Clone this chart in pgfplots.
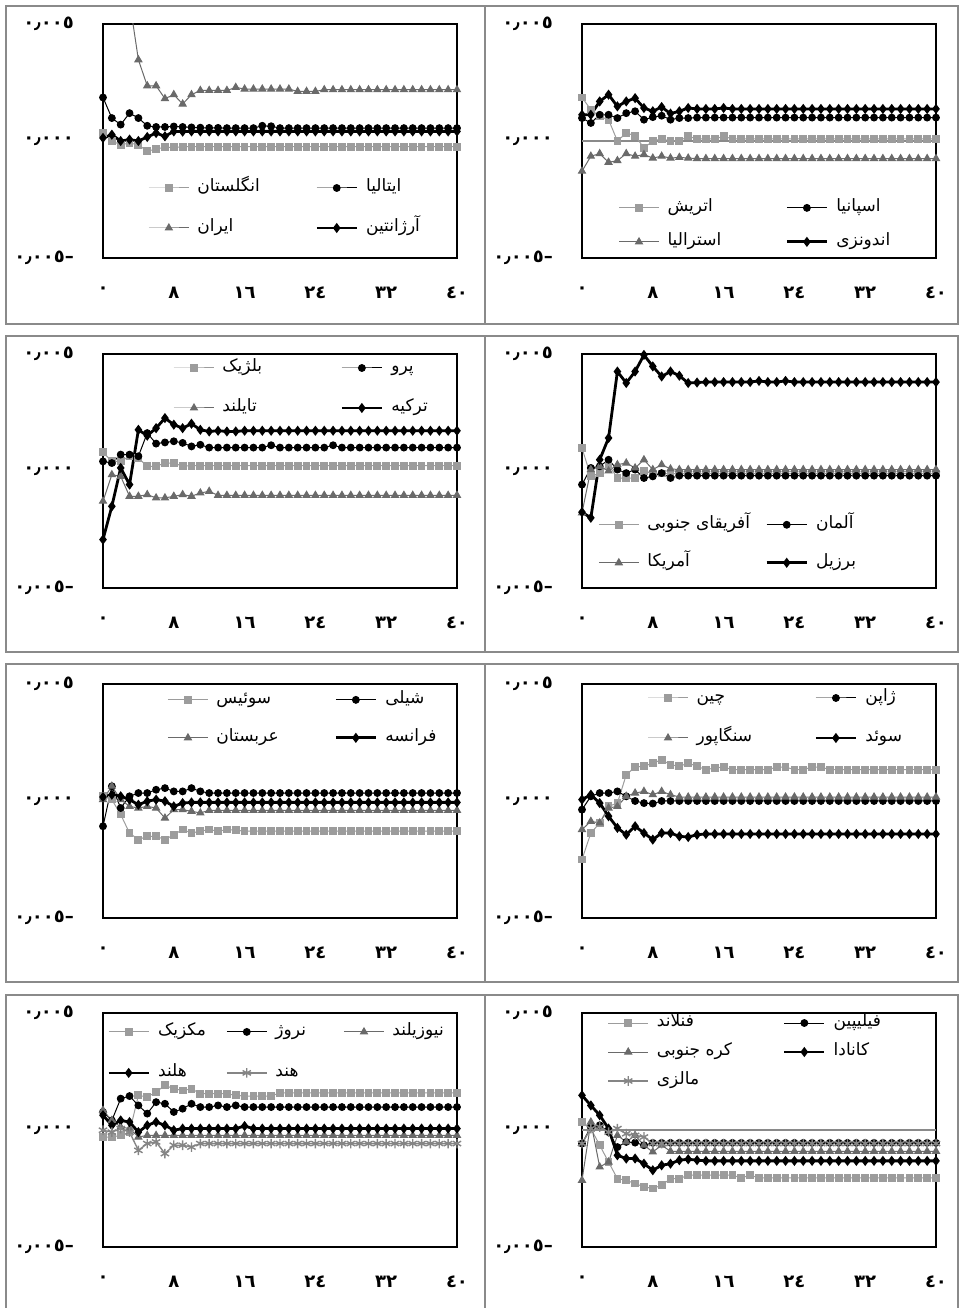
\documentclass[border=0pt]{standalone}
\usepackage{pgfplots}
\pgfplotsset{compat=1.18}
\usepackage{pgfplotstable}
\usepackage{fontspec}
\setmainfont{DejaVu Sans}
\newfontfamily\arfont[Script=Arabic]{DejaVu Sans}
\TeXXeTstate=1
\newcommand{\fa}[1]{{\arfont\beginR #1\endR}}
\newcommand{\lt}[2]{\makebox[#1][l]{\fa{#2}}}
\newcommand{\nm}[1]{{\arfont\bfseries #1}}
\definecolor{cA}{HTML}{9C9C9C}
\definecolor{cC}{HTML}{6A6A6A}
\definecolor{cE}{HTML}{858585}
\definecolor{fr}{HTML}{8A8A8A}

\pgfplotstableread{
x a b c d
0 0.00034 0.00186 0.011 0.00013
1 0.0 0.00098 0.009 0.00027
2 -0.00016 0.00070 0.0075 0.0
3 -0.00009 0.00119 0.006 0.00006
4 -0.00016 0.00098 0.00347 0.0
5 -0.00044 0.00065 0.00236 0.00017
6 -0.00034 0.00060 0.00236 0.00034
7 -0.00027 0.00060 0.00181 0.00020
8 -0.00027 0.00062 0.00198 0.00041
9 -0.00025 0.00060 0.00158 0.00040
10 -0.00024 0.00058 0.00198 0.00041
11 -0.00024 0.00057 0.00216 0.00041
12 -0.00024 0.00056 0.00216 0.00041
13 -0.00024 0.00056 0.00216 0.00041
14 -0.00024 0.00055 0.00216 0.00041
15 -0.00024 0.00055 0.00229 0.00041
16 -0.00024 0.00055 0.00222 0.00041
17 -0.00024 0.00055 0.00222 0.00041
18 -0.00024 0.00065 0.00222 0.00041
19 -0.00024 0.00063 0.00222 0.00041
20 -0.00024 0.00055 0.00222 0.00041
21 -0.00024 0.00055 0.00222 0.00041
22 -0.00024 0.00055 0.00212 0.00041
23 -0.00024 0.00055 0.00212 0.00041
24 -0.00024 0.00055 0.00212 0.00041
25 -0.00024 0.00055 0.00219 0.00041
26 -0.00024 0.00055 0.00219 0.00041
27 -0.00024 0.00055 0.00219 0.00041
28 -0.00024 0.00055 0.00219 0.00041
29 -0.00024 0.00055 0.00219 0.00041
30 -0.00024 0.00055 0.00219 0.00041
31 -0.00024 0.00055 0.00219 0.00041
32 -0.00024 0.00055 0.00219 0.00041
33 -0.00024 0.00055 0.00219 0.00041
34 -0.00024 0.00055 0.00219 0.00041
35 -0.00024 0.00055 0.00219 0.00041
36 -0.00024 0.00055 0.00219 0.00041
37 -0.00024 0.00055 0.00219 0.00041
38 -0.00024 0.00055 0.00219 0.00041
39 -0.00024 0.00055 0.00219 0.00041
40 -0.00024 0.00055 0.00219 0.00041
}\tOne

\pgfplotstableread{
x a b c d
0 0.00186 0.00098 -0.00129 0.00112
1 0.00134 0.00077 -0.00065 0.00112
2 0.00105 0.00112 -0.00054 0.00169
3 0.00091 0.00112 -0.00091 0.00198
4 0.0 0.00098 -0.00084 0.00148
5 0.00034 0.00119 -0.00054 0.00169
6 0.00023 0.00127 -0.00065 0.00183
7 -0.00030 0.00091 -0.00058 0.00141
8 0.0 0.00102 -0.00073 0.00127
9 0.00009 0.00108 -0.00065 0.00145
10 0.0 0.00091 -0.00073 0.00117
11 0.0 0.00098 -0.00070 0.00127
12 0.00020 0.00098 -0.00073 0.00141
13 0.00009 0.00100 -0.00075 0.00137
14 0.00009 0.00100 -0.00075 0.00137
15 0.00009 0.00100 -0.00075 0.00137
16 0.00020 0.00100 -0.00075 0.00141
17 0.00009 0.00100 -0.00075 0.00137
18 0.00009 0.00100 -0.00075 0.00137
19 0.00009 0.00100 -0.00075 0.00137
20 0.00009 0.00100 -0.00075 0.00137
21 0.00009 0.00100 -0.00075 0.00137
22 0.00009 0.00100 -0.00075 0.00137
23 0.00009 0.00100 -0.00075 0.00137
24 0.00009 0.00100 -0.00075 0.00137
25 0.00009 0.00100 -0.00075 0.00137
26 0.00009 0.00100 -0.00075 0.00137
27 0.00009 0.00100 -0.00075 0.00137
28 0.00009 0.00100 -0.00075 0.00137
29 0.00009 0.00100 -0.00075 0.00137
30 0.00009 0.00100 -0.00075 0.00137
31 0.00009 0.00100 -0.00075 0.00137
32 0.00009 0.00100 -0.00075 0.00137
33 0.00009 0.00100 -0.00075 0.00137
34 0.00009 0.00100 -0.00075 0.00137
35 0.00009 0.00100 -0.00075 0.00137
36 0.00009 0.00100 -0.00075 0.00137
37 0.00009 0.00100 -0.00075 0.00137
38 0.00009 0.00100 -0.00075 0.00137
39 0.00009 0.00100 -0.00075 0.00137
40 0.00009 0.00100 -0.00075 0.00137
}\tTwo

\pgfplotstableread{
x a b c d
0 0.00080 0.00041 -0.00129 -0.00293
1 0.00041 0.00034 -0.00016 -0.00151
2 0.00041 0.00070 -0.00023 0.00013
3 0.00063 0.00070 -0.00108 -0.00058
4 0.00055 0.00063 -0.00108 0.00176
5 0.00020 0.00162 -0.00101 0.00151
6 0.00020 0.00117 -0.00115 0.00183
7 0.00034 0.00122 -0.00115 0.00226
8 0.00034 0.00127 -0.00108 0.00198
9 0.00020 0.00120 -0.00101 0.00183
10 0.00023 0.00105 -0.00108 0.00202
11 0.00023 0.00112 -0.00094 0.00176
12 0.00023 0.00100 -0.00087 0.00169
13 0.00023 0.00100 -0.00104 0.00172
14 0.00023 0.00100 -0.00104 0.00169
15 0.00023 0.00100 -0.00104 0.00169
16 0.00023 0.00100 -0.00104 0.00172
17 0.00023 0.00100 -0.00104 0.00172
18 0.00023 0.00100 -0.00104 0.00172
19 0.00023 0.00110 -0.00104 0.00172
20 0.00023 0.00100 -0.00104 0.00172
21 0.00023 0.00100 -0.00104 0.00172
22 0.00023 0.00100 -0.00104 0.00172
23 0.00023 0.00100 -0.00104 0.00172
24 0.00023 0.00100 -0.00104 0.00172
25 0.00023 0.00100 -0.00104 0.00172
26 0.00023 0.00110 -0.00104 0.00172
27 0.00023 0.00100 -0.00104 0.00172
28 0.00023 0.00100 -0.00104 0.00172
29 0.00023 0.00100 -0.00104 0.00172
30 0.00023 0.00100 -0.00104 0.00172
31 0.00023 0.00100 -0.00104 0.00172
32 0.00023 0.00100 -0.00104 0.00172
33 0.00023 0.00100 -0.00104 0.00172
34 0.00023 0.00100 -0.00104 0.00172
35 0.00023 0.00100 -0.00104 0.00172
36 0.00023 0.00100 -0.00104 0.00172
37 0.00023 0.00100 -0.00104 0.00172
38 0.00023 0.00100 -0.00104 0.00172
39 0.00023 0.00100 -0.00104 0.00172
40 0.00023 0.00100 -0.00104 0.00172
}\tThree

\pgfplotstableread{
x a b c d
0 0.00098 -0.00058 -0.00179 -0.00176
1 -0.00023 0.00013 0.00006 -0.00200
2 -0.00009 0.00020 0.00020 0.00048
3 0.00027 0.00048 0.0 0.00141
4 -0.00030 0.00006 0.00027 0.00425
5 -0.00030 -0.00009 0.00034 0.00376
6 -0.00030 0.00006 0.00013 0.00425
7 0.0 -0.00030 0.00048 0.00496
8 -0.00011 -0.00023 0.00006 0.00447
9 -0.00011 -0.00009 0.00027 0.00404
10 -0.00011 -0.00030 0.00009 0.00425
11 -0.00011 -0.00020 0.00006 0.00407
12 -0.00011 -0.00020 0.00006 0.00376
13 -0.00011 -0.00020 0.00006 0.00378
14 -0.00011 -0.00020 0.00006 0.00380
15 -0.00011 -0.00020 0.00006 0.00380
16 -0.00011 -0.00020 0.00006 0.00380
17 -0.00011 -0.00020 0.00006 0.00380
18 -0.00011 -0.00020 0.00006 0.00380
19 -0.00011 -0.00020 0.00006 0.00380
20 -0.00011 -0.00020 0.00006 0.00385
21 -0.00011 -0.00020 0.00006 0.00380
22 -0.00011 -0.00020 0.00006 0.00380
23 -0.00011 -0.00020 0.00006 0.00385
24 -0.00011 -0.00020 0.00006 0.00380
25 -0.00011 -0.00020 0.00006 0.00380
26 -0.00011 -0.00020 0.00006 0.00380
27 -0.00011 -0.00020 0.00006 0.00380
28 -0.00011 -0.00020 0.00006 0.00380
29 -0.00011 -0.00020 0.00006 0.00380
30 -0.00011 -0.00020 0.00006 0.00380
31 -0.00011 -0.00020 0.00006 0.00380
32 -0.00011 -0.00020 0.00006 0.00380
33 -0.00011 -0.00020 0.00006 0.00380
34 -0.00011 -0.00020 0.00006 0.00380
35 -0.00011 -0.00020 0.00006 0.00380
36 -0.00011 -0.00020 0.00006 0.00380
37 -0.00011 -0.00020 0.00006 0.00380
38 -0.00011 -0.00020 0.00006 0.00380
39 -0.00011 -0.00020 0.00006 0.00380
40 -0.00011 -0.00020 0.00006 0.00380
}\tFour

\pgfplotstableread{
x a b c d
0 0.00020 -0.00108 0.00006 0.00017
1 0.00006 0.00063 0.00063 0.00027
2 -0.00058 -0.00030 0.00006 0.00020
3 -0.00137 0.00020 -0.00023 0.00006
4 -0.00165 0.00034 -0.00030 -0.00016
5 -0.00151 0.00034 -0.00023 -0.00001
6 -0.00151 0.00048 -0.00030 0.00006
7 -0.00165 0.00055 -0.00073 -0.00001
8 -0.00144 0.00041 -0.00037 -0.00023
9 -0.00122 0.00041 -0.00037 -0.00009
10 -0.00137 0.00055 -0.00044 -0.00006
11 -0.00129 0.00041 -0.00051 -0.00006
12 -0.00122 0.00034 -0.00040 -0.00006
13 -0.00129 0.00034 -0.00040 -0.00006
14 -0.00122 0.00034 -0.00040 -0.00006
15 -0.00125 0.00034 -0.00040 -0.00006
16 -0.00129 0.00034 -0.00040 -0.00006
17 -0.00129 0.00034 -0.00040 -0.00006
18 -0.00129 0.00034 -0.00040 -0.00006
19 -0.00129 0.00034 -0.00040 -0.00006
20 -0.00129 0.00034 -0.00040 -0.00006
21 -0.00129 0.00034 -0.00040 -0.00006
22 -0.00129 0.00034 -0.00040 -0.00006
23 -0.00129 0.00034 -0.00040 -0.00006
24 -0.00129 0.00034 -0.00040 -0.00006
25 -0.00129 0.00034 -0.00040 -0.00006
26 -0.00129 0.00034 -0.00040 -0.00006
27 -0.00129 0.00034 -0.00040 -0.00006
28 -0.00129 0.00034 -0.00040 -0.00006
29 -0.00129 0.00034 -0.00040 -0.00006
30 -0.00129 0.00034 -0.00040 -0.00006
31 -0.00129 0.00034 -0.00040 -0.00006
32 -0.00129 0.00034 -0.00040 -0.00006
33 -0.00129 0.00034 -0.00040 -0.00006
34 -0.00129 0.00034 -0.00040 -0.00006
35 -0.00129 0.00034 -0.00040 -0.00006
36 -0.00129 0.00034 -0.00040 -0.00006
37 -0.00129 0.00034 -0.00040 -0.00006
38 -0.00129 0.00034 -0.00040 -0.00006
39 -0.00129 0.00034 -0.00040 -0.00006
40 -0.00129 0.00034 -0.00040 -0.00006
}\tFive

\pgfplotstableread{
x a b c d
0 -0.00250 -0.00037 -0.00122 0.00006
1 -0.00137 0.00020 -0.00087 0.00027
2 -0.00094 0.00034 -0.00094 -0.00009
3 -0.00023 0.00034 -0.00030 -0.00065
4 -0.00009 0.00041 -0.00023 -0.00115
5 0.00112 0.00020 0.00020 -0.00144
6 0.00145 0.0 0.00034 -0.00108
7 0.00148 -0.00009 0.00041 -0.00137
8 0.00162 -0.00011 0.00027 -0.00165
9 0.00176 0.0 0.00041 -0.00137
10 0.00155 0.0 0.00027 -0.00137
11 0.00148 0.0 0.00017 -0.00151
12 0.00162 0.0 0.00017 -0.00154
13 0.00148 0.0 0.00017 -0.00144
14 0.00134 0.0 0.00017 -0.00141
15 0.00141 0.0 0.00017 -0.00141
16 0.00145 0.0 0.00017 -0.00141
17 0.00134 0.0 0.00017 -0.00141
18 0.00134 0.0 0.00017 -0.00141
19 0.00134 0.0 0.00017 -0.00141
20 0.00134 0.0 0.00017 -0.00141
21 0.00134 0.0 0.00017 -0.00141
22 0.00145 0.0 0.00017 -0.00141
23 0.00145 0.0 0.00017 -0.00141
24 0.00134 0.0 0.00017 -0.00141
25 0.00134 0.0 0.00017 -0.00141
26 0.00145 0.0 0.00017 -0.00141
27 0.00145 0.0 0.00017 -0.00141
28 0.00134 0.0 0.00017 -0.00141
29 0.00134 0.0 0.00017 -0.00141
30 0.00134 0.0 0.00017 -0.00141
31 0.00134 0.0 0.00017 -0.00141
32 0.00134 0.0 0.00017 -0.00141
33 0.00134 0.0 0.00017 -0.00141
34 0.00134 0.0 0.00017 -0.00141
35 0.00134 0.0 0.00017 -0.00141
36 0.00134 0.0 0.00017 -0.00141
37 0.00134 0.0 0.00017 -0.00141
38 0.00134 0.0 0.00017 -0.00141
39 0.00134 0.0 0.00017 -0.00141
40 0.00134 0.0 0.00017 -0.00141
}\tSix

\pgfplotstableread{
x a b c d e
0 -0.00030 0.00077 0.00084 0.00063 -0.00001
1 -0.00030 0.00041 0.00041 0.00020 -0.00009
2 -0.00023 0.00134 0.00013 0.00041 0.00006
3 -0.00009 0.00145 0.00006 0.00034 -0.00009
4 0.00148 0.00105 -0.00030 -0.00009 -0.00087
5 0.00141 0.00070 -0.00023 0.00020 -0.00058
6 0.00162 0.00119 -0.00023 0.00034 -0.00051
7 0.00191 0.00112 -0.00023 0.00020 -0.00101
8 0.00176 0.00077 -0.00023 -0.00001 -0.00065
9 0.00169 0.00091 -0.00023 0.00006 -0.00065
10 0.00176 0.00112 -0.00023 0.00006 -0.00073
11 0.00155 0.00098 -0.00023 0.00006 -0.00058
12 0.00155 0.00098 -0.00023 0.00006 -0.00058
13 0.00155 0.00105 -0.00023 0.00006 -0.00058
14 0.00155 0.00098 -0.00023 0.00006 -0.00058
15 0.00148 0.00105 -0.00023 0.00006 -0.00058
16 0.00145 0.00098 -0.00023 0.00017 -0.00058
17 0.00145 0.00098 -0.00023 0.00006 -0.00058
18 0.00145 0.00098 -0.00023 0.00006 -0.00058
19 0.00145 0.00098 -0.00023 0.00006 -0.00058
20 0.00159 0.00098 -0.00023 0.00006 -0.00058
21 0.00159 0.00098 -0.00023 0.00006 -0.00058
22 0.00159 0.00098 -0.00023 0.00006 -0.00058
23 0.00159 0.00098 -0.00023 0.00006 -0.00058
24 0.00159 0.00098 -0.00023 0.00006 -0.00058
25 0.00159 0.00098 -0.00023 0.00006 -0.00058
26 0.00159 0.00098 -0.00023 0.00006 -0.00058
27 0.00159 0.00098 -0.00023 0.00006 -0.00058
28 0.00159 0.00098 -0.00023 0.00006 -0.00058
29 0.00159 0.00098 -0.00023 0.00006 -0.00058
30 0.00159 0.00098 -0.00023 0.00006 -0.00058
31 0.00159 0.00098 -0.00023 0.00006 -0.00058
32 0.00159 0.00098 -0.00023 0.00006 -0.00058
33 0.00159 0.00098 -0.00023 0.00006 -0.00058
34 0.00159 0.00098 -0.00023 0.00006 -0.00058
35 0.00159 0.00098 -0.00023 0.00006 -0.00058
36 0.00159 0.00098 -0.00023 0.00006 -0.00058
37 0.00159 0.00098 -0.00023 0.00006 -0.00058
38 0.00159 0.00098 -0.00023 0.00006 -0.00058
39 0.00159 0.00098 -0.00023 0.00006 -0.00058
40 0.00159 0.00098 -0.00023 0.00006 -0.00058
}\tSeven

\pgfplotstableread{
x a b c d e
0 0.00034 -0.00058 -0.00215 0.00148 -0.00058
1 0.00006 0.00013 0.00034 0.00105 0.00006
2 -0.00065 0.00020 -0.00158 0.00063 0.00013
3 -0.00137 -0.00009 -0.00137 0.00006 -0.00009
4 -0.00208 -0.00073 -0.00023 -0.00108 0.00006
5 -0.00215 -0.00051 -0.00051 -0.00122 -0.00016
6 -0.00229 -0.00054 -0.00023 -0.00122 -0.00023
7 -0.00243 -0.00065 -0.00065 -0.00144 -0.00030
8 -0.00250 -0.00055 -0.00094 -0.00172 -0.00058
9 -0.00236 -0.00055 -0.00065 -0.00151 -0.00058
10 -0.00208 -0.00055 -0.00091 -0.00144 -0.00058
11 -0.00208 -0.00055 -0.00091 -0.00129 -0.00058
12 -0.00193 -0.00055 -0.00091 -0.00125 -0.00058
13 -0.00193 -0.00055 -0.00091 -0.00129 -0.00058
14 -0.00193 -0.00055 -0.00091 -0.00132 -0.00058
15 -0.00193 -0.00055 -0.00091 -0.00132 -0.00058
16 -0.00193 -0.00055 -0.00091 -0.00132 -0.00058
17 -0.00193 -0.00055 -0.00091 -0.00132 -0.00058
18 -0.00205 -0.00055 -0.00091 -0.00132 -0.00058
19 -0.00193 -0.00055 -0.00091 -0.00132 -0.00058
20 -0.00205 -0.00055 -0.00091 -0.00132 -0.00058
21 -0.00205 -0.00055 -0.00091 -0.00132 -0.00058
22 -0.00205 -0.00055 -0.00091 -0.00132 -0.00058
23 -0.00205 -0.00055 -0.00091 -0.00132 -0.00058
24 -0.00205 -0.00055 -0.00091 -0.00132 -0.00058
25 -0.00205 -0.00055 -0.00091 -0.00132 -0.00058
26 -0.00205 -0.00055 -0.00091 -0.00132 -0.00058
27 -0.00205 -0.00055 -0.00091 -0.00132 -0.00058
28 -0.00205 -0.00055 -0.00091 -0.00132 -0.00058
29 -0.00205 -0.00055 -0.00091 -0.00132 -0.00058
30 -0.00205 -0.00055 -0.00091 -0.00132 -0.00058
31 -0.00205 -0.00055 -0.00091 -0.00132 -0.00058
32 -0.00205 -0.00055 -0.00091 -0.00132 -0.00058
33 -0.00205 -0.00055 -0.00091 -0.00132 -0.00058
34 -0.00205 -0.00055 -0.00091 -0.00132 -0.00058
35 -0.00205 -0.00055 -0.00091 -0.00132 -0.00058
36 -0.00205 -0.00055 -0.00091 -0.00132 -0.00058
37 -0.00205 -0.00055 -0.00091 -0.00132 -0.00058
38 -0.00205 -0.00055 -0.00091 -0.00132 -0.00058
39 -0.00205 -0.00055 -0.00091 -0.00132 -0.00058
40 -0.00205 -0.00055 -0.00091 -0.00132 -0.00058
}\tEight

\pgfplotsset{
 panel/.style={
  scale only axis, width=177pt, height=117pt,
  xmin=0, xmax=40, ymin=-0.005, ymax=0.005,
  axis line style={line width=0.9pt},
  xtick={0,8,16,24,32,40},
  xticklabels={\nm{٠},\nm{٨},\nm{١٦},\nm{٢٤},\nm{٣٢},\nm{٤٠}},
  ytick={-0.005,0,0.005},
  yticklabels={\nm{–٠٫٠٠٥},\nm{٠٫٠٠٠},\nm{٠٫٠٠٥}},
  scaled y ticks=false, scaled x ticks=false,
  major tick length=0pt,
  tick label style={font=\fontsize{9}{10}\selectfont},
  yticklabel style={anchor=east, xshift=-11pt},
  xticklabel style={anchor=north, yshift=-11pt},
  legend cell align=left,
  legend style={draw=none, fill=none, inner sep=0pt,
    font=\fontsize{8.5}{10}\selectfont,
    nodes={inner sep=1pt, text height=6.5pt, text depth=3pt},
    /tikz/every even column/.append style={column sep=4pt},
    /tikz/every odd column/.append style={column sep=3pt}},
  legend image code/.code={\draw[mark repeat=2,mark phase=2] plot coordinates {(0pt,0pt)(10pt,0pt)(20pt,0pt)};},
 },
 zline/.style={extra y ticks={0}, extra y tick labels={}, extra y tick style={grid=major, major grid style={fr, line width=0.6pt}}},
 sA/.style={color=cA, line width=0.5pt, mark=square*, mark size=1.7pt},
 sB/.style={color=black, line width=0.5pt, mark=*, mark size=1.7pt},
 sC/.style={color=cC, line width=0.5pt, mark=triangle*, mark size=2pt},
 sD/.style={color=black, line width=1.4pt, mark=diamond*, mark size=1.4pt},
 sE/.style={color=cE, line width=0.7pt, mark=asterisk, mark size=2.4pt},
}

\begin{document}
\begin{tikzpicture}
\useasboundingbox (0,0) rectangle (480pt,654pt);
\begin{scope}[fr, line width=0.9pt]
\draw (3pt,492pt) rectangle (242.5pt,651pt);
\draw (242.5pt,492pt) rectangle (479pt,651pt);
\draw (3pt,328pt) rectangle (242.5pt,486pt);
\draw (242.5pt,328pt) rectangle (479pt,486pt);
\draw (3pt,163pt) rectangle (242.5pt,322pt);
\draw (242.5pt,163pt) rectangle (479pt,322pt);
\draw (3pt,-2pt) rectangle (242.5pt,156.5pt);
\draw (242.5pt,-2pt) rectangle (479pt,156.5pt);
\end{scope}

% Panel 1
\begin{axis}[panel, at={(51.5pt,525pt)}, anchor=south west, legend columns=2,
  legend style={at={(axis description cs:0.127,0.350)}, anchor=north west, row sep=8.5pt}]
\addplot[sA] table[x=x,y=a]{\tOne}; \addlegendentry{\lt{54pt}{انگلستان}}
\addplot[sB] table[x=x,y=b]{\tOne}; \addlegendentry{\lt{54pt}{ایتالیا}}
\addplot[sC] table[x=x,y=c]{\tOne}; \addlegendentry{\lt{54pt}{ایران}}
\addplot[sD] table[x=x,y=d]{\tOne}; \addlegendentry{\lt{54pt}{آرژانتین}}
\end{axis}

% Panel 2
\begin{axis}[panel, zline, at={(291pt,525pt)}, anchor=south west, legend columns=2,
  legend style={at={(axis description cs:0.102,0.265)}, anchor=north west, row sep=5.5pt}]
\addplot[sA] table[x=x,y=a]{\tTwo}; \addlegendentry{\lt{54pt}{اتریش}}
\addplot[sB] table[x=x,y=b]{\tTwo}; \addlegendentry{\lt{54pt}{اسپانیا}}
\addplot[sC] table[x=x,y=c]{\tTwo}; \addlegendentry{\lt{54pt}{استرالیا}}
\addplot[sD] table[x=x,y=d]{\tTwo}; \addlegendentry{\lt{54pt}{اندونزی}}
\end{axis}

% Panel 3
\begin{axis}[panel, at={(51.5pt,360pt)}, anchor=south west, legend columns=2,
  legend style={at={(axis description cs:0.198,0.991)}, anchor=north west, row sep=8.5pt}]
\addplot[sA] table[x=x,y=a]{\tThree}; \addlegendentry{\lt{54pt}{بلژیک}}
\addplot[sB] table[x=x,y=b]{\tThree}; \addlegendentry{\lt{54pt}{پرو}}
\addplot[sC] table[x=x,y=c]{\tThree}; \addlegendentry{\lt{54pt}{تایلند}}
\addplot[sD] table[x=x,y=d]{\tThree}; \addlegendentry{\lt{54pt}{ترکیه}}
\end{axis}

% Panel 4
\begin{axis}[panel, at={(291pt,360pt)}, anchor=south west, legend columns=2,
  legend style={at={(axis description cs:0.045,0.321)}, anchor=north west, row sep=7.5pt}]
\addplot[sA] table[x=x,y=a]{\tFour}; \addlegendentry{\makebox[54pt][l]{\arfont\beginR آفریقای جنوبی\endR}}
\addplot[sB] table[x=x,y=b]{\tFour}; \addlegendentry{\lt{54pt}{آلمان}}
\addplot[sC] table[x=x,y=c]{\tFour}; \addlegendentry{\lt{54pt}{آمریکا}}
\addplot[sD] table[x=x,y=d]{\tFour}; \addlegendentry{\lt{54pt}{برزیل}}
\end{axis}

% Panel 5
\begin{axis}[panel, at={(51.5pt,195pt)}, anchor=south west, legend columns=2,
  legend style={at={(axis description cs:0.181,0.983)}, anchor=north west, row sep=7.5pt}]
\addplot[sA] table[x=x,y=a]{\tFive}; \addlegendentry{\lt{54pt}{سوئیس}}
\addplot[sB] table[x=x,y=b]{\tFive}; \addlegendentry{\lt{54pt}{شیلی}}
\addplot[sC] table[x=x,y=c]{\tFive}; \addlegendentry{\lt{54pt}{عربستان}}
\addplot[sD] table[x=x,y=d]{\tFive}; \addlegendentry{\lt{54pt}{فرانسه}}
\end{axis}

% Panel 6
\begin{axis}[panel, at={(291pt,195pt)}, anchor=south west, legend columns=2,
  legend style={at={(axis description cs:0.184,0.991)}, anchor=north west, row sep=8.5pt}]
\addplot[sA] table[x=x,y=a]{\tSix}; \addlegendentry{\lt{54pt}{چین}}
\addplot[sB] table[x=x,y=b]{\tSix}; \addlegendentry{\lt{54pt}{ژاپن}}
\addplot[sC] table[x=x,y=c]{\tSix}; \addlegendentry{\lt{54pt}{سنگاپور}}
\addplot[sD] table[x=x,y=d]{\tSix}; \addlegendentry{\lt{54pt}{سوئد}}
\end{axis}

% Panel 7
\begin{axis}[panel, at={(51.5pt,30.5pt)}, anchor=south west, legend columns=3,
  legend style={at={(axis description cs:0.011,0.970)}, anchor=north west, row sep=9pt}]
\addplot[sA] table[x=x,y=a]{\tSeven}; \addlegendentry{\lt{29pt}{مکزیک}}
\addplot[sB] table[x=x,y=b]{\tSeven}; \addlegendentry{\lt{29pt}{نروژ}}
\addplot[sC] table[x=x,y=c]{\tSeven}; \addlegendentry{\lt{29pt}{نیوزیلند}}
\addplot[sD] table[x=x,y=d]{\tSeven}; \addlegendentry{\lt{29pt}{هلند}}
\addplot[sE] table[x=x,y=e]{\tSeven}; \addlegendentry{\lt{29pt}{هند}}
\end{axis}

% Panel 8
\begin{axis}[panel, zline, at={(291pt,30.5pt)}, anchor=south west, legend columns=2,
  legend style={at={(axis description cs:0.071,1.008)}, anchor=north west, row sep=3pt}]
\addplot[sA] table[x=x,y=a]{\tEight}; \addlegendentry{\lt{58pt}{فنلاند}}
\addplot[sB] table[x=x,y=b]{\tEight}; \addlegendentry{\lt{58pt}{فیلیپین}}
\addplot[sC] table[x=x,y=c]{\tEight}; \addlegendentry{\makebox[58pt][l]{\arfont\beginR کره جنوبی\endR}}
\addplot[sD] table[x=x,y=d]{\tEight}; \addlegendentry{\lt{58pt}{کانادا}}
\addplot[sE] table[x=x,y=e]{\tEight}; \addlegendentry{\lt{58pt}{مالزی}}
\end{axis}
\end{tikzpicture}
\end{document}
